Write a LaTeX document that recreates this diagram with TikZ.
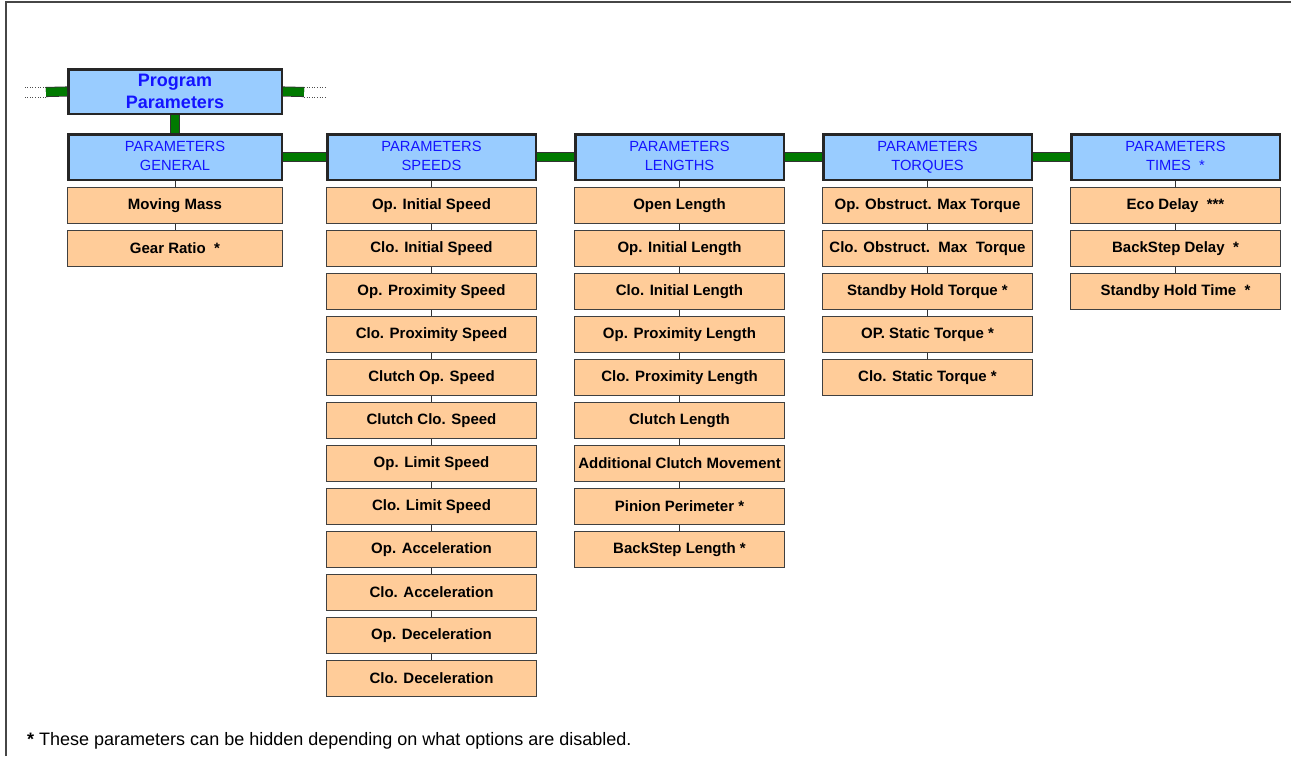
\documentclass[tikz,border=0pt]{standalone}
\usepackage{fontspec}
\setmainfont{Liberation Sans}
\usetikzlibrary{positioning}

\definecolor{headblue}{RGB}{153,204,255}
\definecolor{itempeach}{RGB}{255,204,153}
\definecolor{linkgreen}{RGB}{0,122,0}
\definecolor{textblue}{RGB}{20,20,255}
\definecolor{framegray}{RGB}{70,70,70}

\tikzset{
  mainhead/.style={draw=black!85, line width=2.5pt, fill=headblue, text=textblue,
    minimum width=213.5pt, minimum height=44.5pt, inner sep=0pt, align=center,
    font=\fontsize{18}{22}\selectfont\bfseries},
  grouphead/.style={draw=black!85, line width=2.5pt, fill=headblue, text=textblue,
    minimum width=208.5pt, minimum height=45.5pt, inner sep=0pt, align=center,
    font=\fontsize{14.7}{19}\selectfont},
  item/.style={draw=black!75, line width=1pt, fill=itempeach,
    minimum width=210pt, minimum height=36pt, inner sep=0pt,
    font=\fontsize{15}{17}\selectfont\bfseries},
  link/.style={draw=black!80, line width=0.8pt, double=linkgreen, double distance=8.5pt},
  stub/.style={draw=black!70, line width=0.6pt, dotted},
  tie/.style={draw=black!80, line width=0.8pt}
}

\begin{document}
\begin{tikzpicture}[x=1pt, y=-1pt]
  \useasboundingbox (0,0) rectangle (1291,756);

  % Frame
  \draw[framegray, line width=1.3pt] (6,756) -- (6,2) -- (1291,2);

  % Top box
  \node[mainhead] (prog) at (175,91.5) {Program\\Parameters};

  % Group headers
  \node[grouphead, minimum width=213.5pt] (gen0) at (175,157) {PARAMETERS\strut\\GENERAL\strut};
  \node[grouphead] (spd0) at (431.5,157) {PARAMETERS\strut\\SPEEDS\strut};
  \node[grouphead] (len0) at (679.5,157) {PARAMETERS\strut\\LENGTHS\strut};
  \node[grouphead] (trq0) at (927.5,157) {PARAMETERS\strut\\TORQUES\strut};
  \node[grouphead] (tim0) at (1175.5,157) {PARAMETERS\strut\\TIMES\ \ *\strut};

  % Green links
  \coordinate (inL) at (46,92);
  \coordinate (inR) at (304,92);
  \draw[link] (inL) -- (prog.west);
  \draw[link] (prog.east) -- (inR);
  \draw[link] (prog.south) -- (gen0.north);
  \draw[link] (gen0.east) -- (spd0.west);
  \draw[link] (spd0.east) -- (len0.west);
  \draw[link] (len0.east) -- (trq0.west);
  \draw[link] (trq0.east) -- (tim0.west);

  % Dotted continuation
  \draw[stub] ([yshift=-5pt]inL) -- ++(-21,0);
  \draw[stub] ([yshift=5pt]inL) -- ++(-21,0);
  \draw[stub] ([yshift=-5pt]inR) -- ++(23,0);
  \draw[stub] ([yshift=5pt]inR) -- ++(23,0);

  % General
  \foreach \txt [count=\i, remember=\i as \j (initially 0)] in
      {Moving Mass, Gear Ratio\ \ *} {
    \node[item, minimum width=215pt, below=6pt of gen\j] (gen\i) {\txt};
    \draw[tie] (gen\j.south) -- (gen\i.north);
  }

  % Speeds
  \foreach \txt [count=\i, remember=\i as \j (initially 0)] in
      {Op. Initial Speed, Clo. Initial Speed, Op. Proximity Speed,
       Clo. Proximity Speed, Clutch Op. Speed, Clutch Clo. Speed,
       Op. Limit Speed, Clo. Limit Speed, Op. Acceleration,
       Clo. Acceleration, Op. Deceleration, Clo. Deceleration} {
    \node[item, below=6pt of spd\j] (spd\i) {\txt};
    \draw[tie] (spd\j.south) -- (spd\i.north);
  }

  % Lengths
  \foreach \txt [count=\i, remember=\i as \j (initially 0)] in
      {Open Length, Op. Initial Length, Clo. Initial Length,
       Op. Proximity Length, Clo. Proximity Length, Clutch Length,
       Additional Clutch Movement, Pinion Perimeter *, BackStep Length *} {
    \node[item, below=6pt of len\j] (len\i) {\txt};
    \draw[tie] (len\j.south) -- (len\i.north);
  }

  % Torques
  \foreach \txt [count=\i, remember=\i as \j (initially 0)] in
      {Op. Obstruct. Max Torque, Clo. Obstruct.\ \ Max\ \ Torque,
       Standby Hold Torque *, OP. Static Torque *, Clo. Static Torque *} {
    \node[item, below=6pt of trq\j] (trq\i) {\txt};
    \draw[tie] (trq\j.south) -- (trq\i.north);
  }

  % Times
  \foreach \txt [count=\i, remember=\i as \j (initially 0)] in
      {Eco Delay\ \ ***, BackStep Delay\ \ *, Standby Hold Time\ \ *} {
    \node[item, below=6pt of tim\j] (tim\i) {\txt};
    \draw[tie] (tim\j.south) -- (tim\i.north);
  }

  % Footnote
  \node[anchor=west, inner sep=0pt, font=\fontsize{18}{21}\selectfont] (note) at (27,741)
    {\textbf{*} These parameters can be hidden depending on what options are disabled.};
\end{tikzpicture}
\end{document}
